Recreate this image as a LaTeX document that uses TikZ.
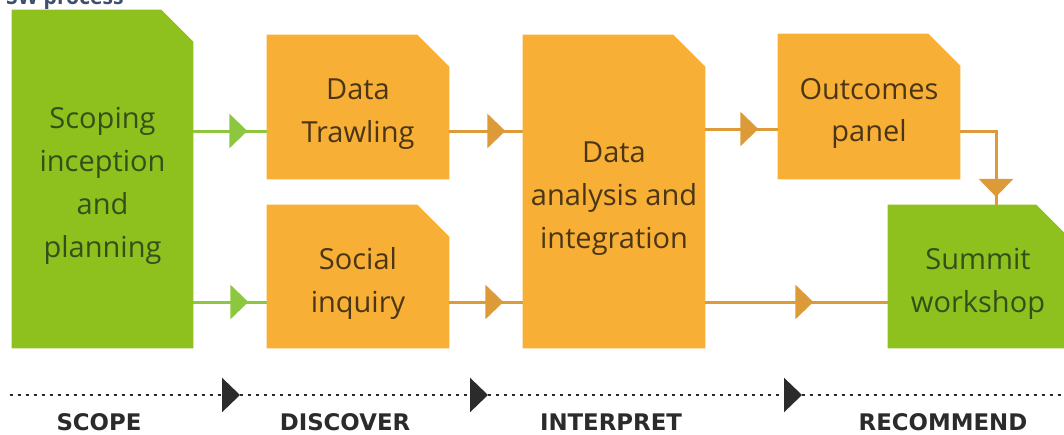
\documentclass[tikz,border=0pt]{standalone}
\usepackage{fontspec}
\setmainfont{Open Sans}
\newfontfamily\phasefont{DejaVu Sans}
\usetikzlibrary{arrows.meta,decorations.markings,calc,backgrounds}
\definecolor{leaf}{HTML}{8EC11E}
\definecolor{leafdark}{HTML}{34501A}
\definecolor{leafline}{HTML}{8DC63F}
\definecolor{amber}{HTML}{F8AF35}
\definecolor{amberdark}{HTML}{4A3616}
\definecolor{amberline}{HTML}{DC9A38}
\definecolor{ambertip}{HTML}{F39C1F}
\definecolor{slate}{HTML}{3C4F6E}
\definecolor{ink}{HTML}{2B2B2B}
\tikzset{tri/.tip={Triangle[length=0.36cm,width=0.68cm]}}
\begin{document}
\begin{tikzpicture}[
  box/.style={rectangle,inner sep=0pt},
  words/.style={align=center,yshift=-0.14cm,inner sep=0pt,font=\fontsize{16.5}{24.4}\selectfont},
  gbox/.style={box,label={[words,text=leafdark]center:#1}},
  obox/.style={box,label={[words,text=amberdark]center:#1}},
  gline/.style={draw=leafline,line width=0.06cm,postaction={decorate,color=leafline},
    decoration={markings,mark=at position #1 with {\arrow{tri}}}},
  oline/.style={draw=amberline,line width=0.06cm,postaction={decorate,color=ambertip},
    decoration={markings,mark=at position #1 with {\arrow{tri}}}},
  timeline/.style={draw=ink,line width=0.055cm,dash pattern=on 0.05cm off 0.11cm},
  phase/.style={anchor=base,text=ink,font=\phasefont\bfseries\fontsize{13}{15}\selectfont}
]
\useasboundingbox (0,0) rectangle (21.28,8.68);
\node[anchor=base west,text=slate,font=\bfseries\fontsize{12}{14}\selectfont] (title) at (0,8.58) {SW process};

\node[gbox={Scoping\\inception\\and\\planning},minimum width=3.62cm,minimum height=6.76cm] (scope) at (2.05,5.10) {};
\node[obox={Data\\Trawling},minimum width=3.64cm,minimum height=2.88cm] (trawl) at (7.16,6.54) {};
\node[obox={Social\\inquiry},minimum width=3.64cm,minimum height=2.86cm] (social) at (7.16,3.15) {};
\node[obox={Data\\analysis and\\integration},minimum width=3.64cm,minimum height=6.26cm] (analysis) at (12.28,4.85) {};
\node[obox={Outcomes\\panel},minimum width=3.64cm,minimum height=2.90cm] (outcomes) at (17.38,6.55) {};
\node[gbox={Summit\\workshop},minimum width=3.60cm,minimum height=2.86cm] (summit) at (19.56,3.15) {};

\begin{scope}[on background layer]
\foreach \n/\c in {scope/leaf,trawl/amber,social/amber,analysis/amber,outcomes/amber,summit/leaf}
  \fill[\c] (\n.south west) |- ($(\n.north east)+(-0.64,0)$) -- ($(\n.north east)+(0,-0.64)$) |- cycle;
\end{scope}

\draw[gline=1.08cm] ($(scope.east|-trawl.west)+(0,-0.48)$) -- ($(trawl.west)+(0,-0.48)$);
\draw[gline=1.10cm] ($(scope.east|-social.west)+(0,-0.51)$) -- ($(social.west)+(0,-0.51)$);
\draw[oline=1.12cm] ($(trawl.east)+(0,-0.48)$) -- ($(analysis.west|-trawl.east)+(0,-0.48)$);
\draw[oline=1.08cm] ($(social.east)+(0,-0.51)$) -- ($(analysis.west|-social.east)+(0,-0.51)$);
\draw[oline=1.06cm] ($(analysis.east|-outcomes.west)+(0,-0.45)$) -- ($(outcomes.west)+(0,-0.45)$);
\draw[oline=2.16cm] ($(analysis.east|-summit.west)+(0,-0.51)$) -- ($(summit.west)+(0,-0.51)$);
\draw[oline=2.02cm] ($(outcomes.east)+(0,-0.5)$) -| ($(summit.north)+(0.36,0)$);

\coordinate (t0) at (0.2,0.78);
\coordinate (t1) at (4.8,0.78);
\coordinate (t2) at (9.76,0.78);
\coordinate (t3) at (16.04,0.78);
\coordinate (t4) at (21.28,0.78);
\draw[timeline,-tri] (t0) -- (t1);
\draw[timeline,-tri] (t1) -- (t2);
\draw[timeline,-tri] (t2) -- (t3);
\draw[timeline] (t3) -- (t4);
\node[phase] (scopelbl) at (1.98,0.08) {SCOPE};
\node[phase] (discoverlbl) at (6.90,0.08) {DISCOVER};
\node[phase] (interpretlbl) at (12.22,0.08) {INTERPRET};
\node[phase] (recommendlbl) at (18.86,0.08) {RECOMMEND};
\end{tikzpicture}
\end{document}
